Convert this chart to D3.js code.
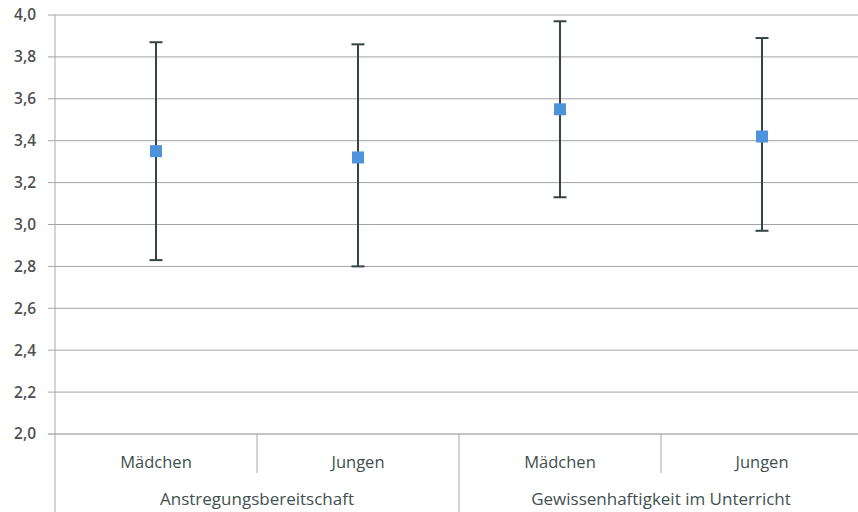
<!DOCTYPE html>
<html><head><meta charset="utf-8">
<script src="https://cdn.jsdelivr.net/npm/d3@7"></script>
<style>html,body{margin:0;padding:0;background:#fff;}svg{display:block;}</style>
</head><body>
<svg id="c" width="858" height="512"></svg>
<script>
const categories = ["Mädchen", "Jungen", "Mädchen", "Jungen"];
const groups = ["Anstregungsbereitschaft", "Gewissenhaftigkeit im Unterricht"];
const groupOf = [0, 0, 1, 1];
const means = [3.35, 3.32, 3.55, 3.42];
const upper = [3.87, 3.86, 3.97, 3.89];
const lower = [2.83, 2.80, 3.13, 2.97];
const yTicks = [2.0, 2.2, 2.4, 2.6, 2.8, 3.0, 3.2, 3.4, 3.6, 3.8, 4.0];

(function () {
const svg = d3.select("#c");
const mLeft = 55, mRight = 863, mTop = 15, mBottom = 434;
const x = d3.scaleBand().domain(d3.range(categories.length)).range([mLeft, mRight]).padding(0);
const y = d3.scaleLinear().domain([2.0, 4.0]).range([mBottom, mTop]);
const textCol = "#415050";
const gridCol = "#a4a4a4";

// gridlines
svg.append("g").selectAll("line").data(yTicks).join("line")
  .attr("x1", mLeft - 7).attr("x2", mRight)
  .attr("y1", d => y(d)).attr("y2", d => y(d))
  .attr("stroke", d => d === 2.0 ? "#8a8a8a" : gridCol).attr("stroke-width", 1);

// y axis labels
const fmt = d => d3.format(".1f")(d).replace(".", ",");
svg.append("g").selectAll("text").data(yTicks).join("text")
  .attr("x", 36).attr("y", d => y(d)).attr("dy", "0.35em")
  .attr("text-anchor", "end").attr("font-family", "Open Sans, sans-serif")
  .attr("font-size", 15.5).attr("font-weight", 600).attr("fill", "#505050")
  .text(fmt);

// left axis line
svg.append("line").attr("x1", mLeft).attr("x2", mLeft).attr("y1", mTop).attr("y2", 512)
  .attr("stroke", "#a8a8a8").attr("stroke-width", 1);

// category separators
const bw = x.bandwidth();
categories.forEach((c, i) => {
  if (i === 0) return;
  const xs = x(i);
  const isGroupBoundary = groupOf[i] !== groupOf[i - 1];
  svg.append("line").attr("x1", xs).attr("x2", xs).attr("y1", mBottom)
    .attr("y2", isGroupBoundary ? 512 : 473)
    .attr("stroke", "#a8a8a8").attr("stroke-width", 1);
});

// category labels
svg.append("g").selectAll("text").data(categories).join("text")
  .attr("x", (d, i) => x(i) + bw / 2).attr("y", 462).attr("dy", "0.35em")
  .attr("text-anchor", "middle").attr("font-family", "'Open Sans', sans-serif")
  .attr("font-size", 16.5).attr("font-weight", 500).attr("fill", textCol).text(d => d);

// group labels
groups.forEach((g, gi) => {
  const idx = d3.range(categories.length).filter(i => groupOf[i] === gi);
  const cx = (x(idx[0]) + x(idx[idx.length - 1]) + bw) / 2;
  svg.append("text").attr("x", cx).attr("y", 499).attr("dy", "0.35em")
    .attr("text-anchor", "middle").attr("font-family", "'Open Sans', sans-serif")
    .attr("font-size", 17).attr("font-weight", 500).attr("fill", textCol).text(g);
});

// error bars
const ebCol = "#334545";
const eb = svg.append("g");
categories.forEach((c, i) => {
  const cx = x(i) + bw / 2;
  eb.append("line").attr("x1", cx).attr("x2", cx).attr("y1", y(upper[i])).attr("y2", y(lower[i]))
    .attr("stroke", ebCol).attr("stroke-width", 2);
  [upper[i], lower[i]].forEach(v => {
    eb.append("line").attr("x1", cx - 6.5).attr("x2", cx + 6.5).attr("y1", y(v)).attr("y2", y(v))
      .attr("stroke", ebCol).attr("stroke-width", 2);
  });
});

// markers
svg.append("g").selectAll("rect").data(means).join("rect")
  .attr("x", (d, i) => x(i) + bw / 2 - 6).attr("y", d => y(d) - 6)
  .attr("width", 12).attr("height", 12).attr("fill", "#4f93dc");
})();
</script>
</body></html>
